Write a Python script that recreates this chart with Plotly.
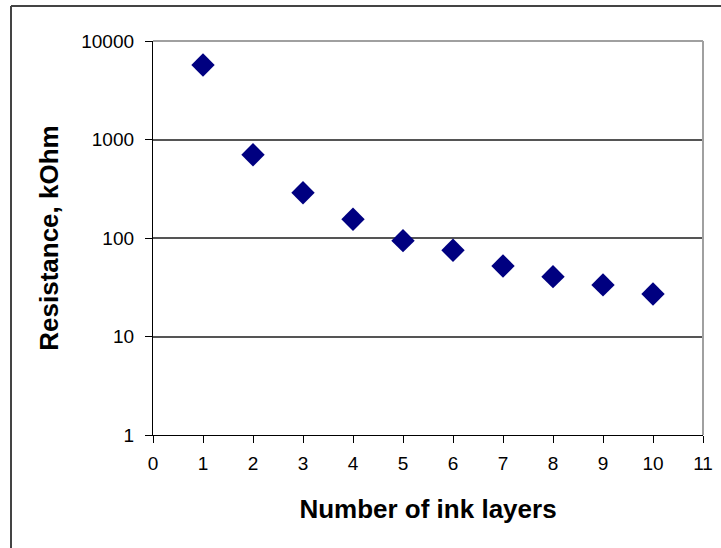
import plotly.graph_objects as go

layers = [1, 2, 3, 4, 5, 6, 7, 8, 9, 10]
resistance = [5700, 700, 288, 155, 94, 75, 52, 40.5, 33.4, 27]
x_ticks = list(range(0, 12))
y_ticks = [1, 10, 100, 1000, 10000]
y_labels = ["1", "10", "100", "1000", "10000"]

fig = go.Figure()
fig.add_trace(go.Scatter(
    x=layers, y=resistance, mode="markers",
    marker=dict(symbol="diamond", size=18, color="#000080", line=dict(width=0)),
    showlegend=False,
))

W, H = 721, 548
L, R, T, B = 153, 18, 41, 113
pw, ph = W - L - R, H - T - B
bx = (11 - L) / pw
by = 1 + (T - 6) / ph

fig.update_layout(
    width=W, height=H,
    margin=dict(l=L, r=R, t=T, b=B, pad=0, autoexpand=False),
    paper_bgcolor="white", plot_bgcolor="white",
    font=dict(family="Liberation Sans, Arial, sans-serif", color="black"),
    xaxis=dict(
        range=[0, 11], tickvals=x_ticks, ticks="outside", ticklen=7, tickwidth=1.3,
        tickcolor="black", showline=True, linecolor="black", linewidth=1.3,
        showgrid=False, zeroline=False, tickfont=dict(size=19), ticklabelstandoff=4,
        automargin=False,
        title=dict(text="<b>Number of ink layers</b>", font=dict(size=26), standoff=26),
    ),
    yaxis=dict(
        type="log", range=[0, 4], tickvals=y_ticks, ticktext=y_labels,
        ticks="outside", ticklen=7, tickwidth=1.3, tickcolor="black",
        showline=True, linecolor="black", linewidth=1.3,
        showgrid=True, gridcolor="#555555", gridwidth=1.5, zeroline=False,
        tickfont=dict(size=19), ticklabelstandoff=7, automargin=False,
        title=dict(text="<b>Resistance, kOhm</b>", font=dict(size=26), standoff=15),
    ),
    shapes=[
        dict(type="line", xref="paper", yref="paper", x0=0, x1=1, y0=1, y1=1,
             line=dict(color="#a0a0a0", width=2), layer="above"),
        dict(type="line", xref="paper", yref="paper", x0=1, x1=1, y0=0, y1=1,
             line=dict(color="#a0a0a0", width=2), layer="above"),
        dict(type="line", xref="paper", yref="paper", x0=bx, x1=1.2, y0=by, y1=by,
             line=dict(color="#444444", width=2)),
        dict(type="line", xref="paper", yref="paper", x0=bx, x1=bx, y0=by, y1=-0.5,
             line=dict(color="#444444", width=2)),
    ],
)

fig.write_html(
    "out.html",
    config={"displayModeBar": False},
    post_script="document.body.style.margin='0px';document.body.style.overflow='hidden';",
)
